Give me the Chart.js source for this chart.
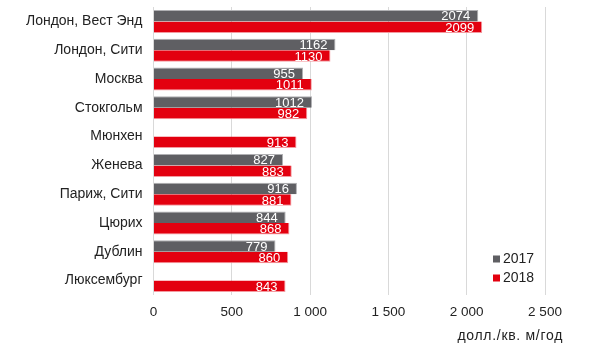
<!DOCTYPE html>
<html><head><meta charset="utf-8">
<script src="https://cdn.jsdelivr.net/npm/chart.js@4.4.1/dist/chart.umd.min.js"></script>
<style>html,body{margin:0;padding:0;background:#fff}#wrap{width:600px;height:356px}</style>
</head><body><div id="wrap"><canvas id="c" width="600" height="356"></canvas></div>
<script>
const categories = ["Лондон, Вест Энд","Лондон, Сити","Москва","Стокгольм","Мюнхен","Женева","Париж, Сити","Цюрих","Дублин","Люксембург"];
const values2017 = [2074,1162,955,1012,null,827,916,844,779,null];
const values2018 = [2099,1130,1011,982,913,883,881,868,860,843];
const seriesNames = ["2017","2018"];
const xTicks = [0,500,1000,1500,2000,2500];
const axisTitle = "долл./кв. м/год";

const FONT = "'Liberation Sans', Arial, sans-serif";
const colors = ["#5f5f63","#e3000f"];

const labelPlugin = {
  id:'vlabels',
  afterDatasetsDraw(chart){
    const ctx = chart.ctx;
    ctx.save();
    ctx.font = "13px " + FONT;
    ctx.fillStyle = "#fff";
    ctx.textAlign = "right";
    ctx.textBaseline = "middle";
    chart.data.datasets.forEach((ds,i)=>{
      const meta = chart.getDatasetMeta(i);
      meta.data.forEach((el,j)=>{
        const v = ds.data[j];
        if(v==null) return;
        ctx.fillText(String(v), el.x - 8, el.y + 1);
      });
    });
    ctx.restore();
  }
};
const legendPlugin = {
  id:'ilegend',
  afterDraw(chart){
    const ctx = chart.ctx;
    ctx.save();
    ctx.font = "14px " + FONT;
    ctx.textBaseline = "middle";
    ctx.textAlign = "left";
    const x = 493, ys = [259,278];
    seriesNames.forEach((n,i)=>{
      ctx.fillStyle = colors[i];
      ctx.fillRect(x, ys[i]-3.5, 7, 7);
      ctx.fillStyle = "#222";
      ctx.fillText(n, x+10, ys[i]);
    });
    // axis title, bottom right
    ctx.font = "14px " + FONT;
    try { ctx.letterSpacing = "0.7px"; } catch(e) {}
    ctx.textAlign = "right";
    ctx.fillText(axisTitle, 563, 336);
    ctx.restore();
  }
};

new Chart(document.getElementById('c'),{
  type:'bar',
  data:{
    labels:categories,
    datasets:[
      {label:seriesNames[0],data:values2017,backgroundColor:colors[0],borderColor:"#b0b0b3",borderWidth:{top:1,right:1,bottom:0,left:0},borderSkipped:'start'},
      {label:seriesNames[1],data:values2018,backgroundColor:colors[1],borderColor:"#f39aa0",borderWidth:{top:0,right:1,bottom:1,left:0},borderSkipped:'start'}
    ]
  },
  options:{
    indexAxis:'y',
    responsive:false,
    animation:false,
    devicePixelRatio:1,
    layout:{padding:{top:7,right:55,bottom:0,left:0}},
    datasets:{bar:{categoryPercentage:0.8,barPercentage:1}},
    plugins:{legend:{display:false},tooltip:{enabled:false}},
    scales:{
      x:{
        min:0,max:2500,
        afterBuildTicks(s){ s.ticks = xTicks.map(v=>({value:v})); },
        afterFit(s){ s.height = 61; },
        ticks:{color:"#222",font:{family:FONT,size:13.5},padding:9,
          callback:(v)=>String(v).replace(/\B(?=(\d{3})+(?!\d))/g,' ')},
        grid:{color:"#d9d9d9",lineWidth:1,drawTicks:false},
        border:{display:false}
      },
      y:{
        afterFit(s){ s.width = 153.5; s.paddingTop = 0; s.paddingBottom = 0; },
        ticks:{color:"#222",font:{family:FONT,size:14},padding:11},
        grid:{display:false,drawTicks:false},
        border:{display:false}
      }
    }
  },
  plugins:[labelPlugin,legendPlugin]
});
</script></body></html>
